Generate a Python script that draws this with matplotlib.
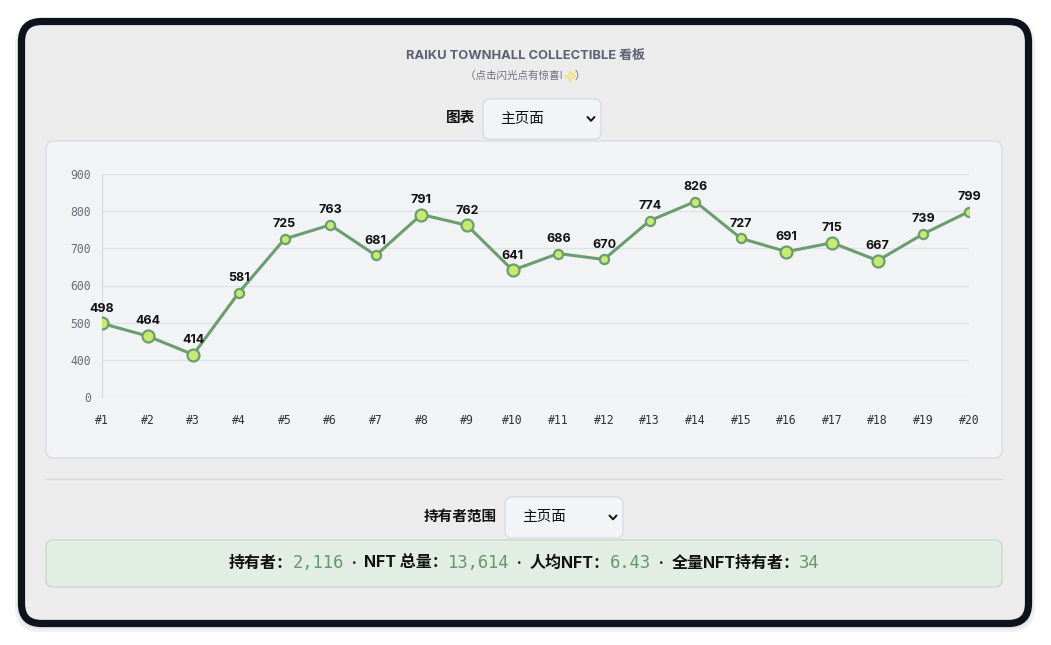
import matplotlib.pyplot as plt
from matplotlib.patches import FancyBboxPatch
from matplotlib.ticker import FuncFormatter

plt.rcParams['font.family'] = ['Inter', 'Noto Sans CJK SC', 'DejaVu Sans']

# data
labels = ['#%d' % i for i in range(1, 21)]
values = [498, 464, 414, 581, 725, 763, 681, 791, 762, 641,
          686, 670, 774, 826, 727, 691, 715, 667, 739, 799]
flash = ['#1', '#2', '#3', '#8', '#9', '#10', '#16', '#17', '#18']  # bigger points
y_ticks = [300, 400, 500, 600, 700, 800, 900]
stat_names = ['持有者：', 'NFT 总量：', '人均NFT：', '全量NFT持有者：']
stat_values = ['2,116', '13,614', '6.43', '34']

W, H = 1051, 645
fig = plt.figure(figsize=(W / 100, H / 100), dpi=100)
fig.patch.set_facecolor('white')

# page overlay in pixel coordinates
bg = fig.add_axes([0, 0, 1, 1])
bg.set_xlim(0, W)
bg.set_ylim(H, 0)
bg.axis('off')


def box(x0, y0, x1, y1, r, fc, ec, lw=1.0, z=1):
    p = FancyBboxPatch((x0, y0), x1 - x0, y1 - y0,
                       boxstyle='round,pad=0,rounding_size=%g' % r,
                       fc=fc, ec=ec, lw=lw, zorder=z)
    bg.add_patch(p)


def row(pieces, xc, y):
    # lay text pieces side by side, centred on xc
    fig.canvas.draw()
    rend = fig.canvas.get_renderer()
    txts = [bg.text(0, y, s, ha='left', va='center', zorder=3, **kw) for s, kw in pieces]
    widths = [t.get_window_extent(rend).width for t in txts]
    x = xc - sum(widths) / 2
    for t, w in zip(txts, widths):
        t.set_x(x)
        x += w
    return txts, widths


# soft shadow + dark frame
box(15, 19, 1035, 632, 25, '#f0f0f2', 'none', z=0)
box(17, 20, 1033, 629, 24, '#e6e6e8', 'none', z=0)
box(21.5, 21.5, 1028.5, 623.5, 20, '#ececed', '#0e121c', lw=5.2, z=1)

# title
bg.text(525, 56, 'RAIKU TOWNHALL COLLECTIBLE 看板', ha='center', va='center',
        fontsize=9.3, fontweight='bold', color='#5b6172', zorder=3)
sub_kw = dict(fontsize=7.6, style='italic', color='#6b7080',
              family=['Noto Sans CJK SC', 'DejaVu Sans'])
sub, sw = row([('（点击闪光点有惊喜! ', sub_kw), ('    ', sub_kw), ('）', sub_kw)], 525, 76)
# sparkle symbol (no installed font has it)
sx = sub[1].get_position()[0] + sw[1] / 2
bg.plot(sx, 76, marker=(4, 1, 0), ms=8, color='#f6e7a0', mec='#efd878', mew=0.5, zorder=4)
bg.plot(sx + 4, 72, marker=(4, 1, 0), ms=4, color='#f6e7a0', mec='none', zorder=4)


def select(x0, y0, x1, y1, caption):
    box(x0, y0, x1, y1, 7, '#f3f4f8', '#d5d9e4', lw=0.9, z=2)
    bg.text(x0 + 17, (y0 + y1) / 2, '主页面', ha='left', va='center',
            fontsize=10.5, color='#111111', zorder=3)
    cx, cy = x1 - 10, (y0 + y1) / 2
    bg.plot([cx - 3.5, cx, cx + 3.5], [cy - 2, cy + 1.8, cy - 2],
            color='#111111', lw=1.4, zorder=3, solid_capstyle='round')
    bg.text(x0 - 8, (y0 + y1) / 2 - 1, caption, ha='right', va='center',
            fontsize=10.5, fontweight='bold', color='#111111', zorder=3)


select(483, 99, 601, 139, '图表')

# chart panel
box(46, 141, 1002, 458, 8, '#f2f3f4', '#d6dae3', lw=0.9, z=2)

# divider
bg.plot([46, 1002], [479, 479], color='#d6d8de', lw=1.0, zorder=2)

select(505, 497, 623, 538, '持有者范围')

# stats box
box(46, 540, 1002, 587, 7, '#e2ede4', '#c6d6ca', lw=0.9, z=2)

pieces = []
for i, (n, v) in enumerate(zip(stat_names, stat_values)):
    if i > 0:
        pieces.append(('  ·  ', dict(fontsize=11.5, fontweight='bold', color='#222222')))
    pieces.append((n, dict(fontsize=11.5, fontweight='bold', color='#111111')))
    pieces.append((v, dict(fontsize=12.3, family='DejaVu Sans Mono', color='#639a69')))
row(pieces, 524, 563)

# line chart
ax = fig.add_axes([102 / W, 1 - 397 / H, 867 / W, 223 / H])
ax.set_facecolor('none')
ax.set_zorder(5)
xs = range(len(labels))
ax.plot(xs, values, color='#6b9e6e', lw=2.2, zorder=3)
for i, v in enumerate(values):
    big = labels[i] in flash
    ax.plot(i, v, 'o', ms=8.6 if big else 6.6, mfc='#c8ea6e', mec='#6b9e6e',
            mew=1.6, zorder=4)
    ax.annotate(str(v), (i, v), xytext=(0, 10.5), textcoords='offset points',
                ha='center', va='center', fontsize=9, fontweight='bold',
                color='#111111', zorder=5)
ax.set_xlim(0, len(labels) - 1)
ax.set_ylim(300, 900)
ax.set_xticks(list(xs))
ax.set_xticklabels(labels)
ax.set_yticks(y_ticks)
ax.yaxis.set_major_formatter(FuncFormatter(lambda v, p: '0' if v == 300 else '%d' % v))
ax.grid(axis='y', color='#dfe1ea', lw=0.9)
ax.set_axisbelow(True)
for s in ['top', 'right', 'bottom']:
    ax.spines[s].set_visible(False)
ax.spines['left'].set_color('#d3d6df')
ax.tick_params(length=0)
ax.tick_params(axis='y', pad=8, labelsize=8.3, labelcolor='#6b6f7a')
ax.tick_params(axis='x', pad=12, labelsize=8.3, labelcolor='#333333')
for lbl in ax.get_yticklabels() + ax.get_xticklabels():
    lbl.set_family('DejaVu Sans Mono')

fig.savefig('out.png', dpi=100)
